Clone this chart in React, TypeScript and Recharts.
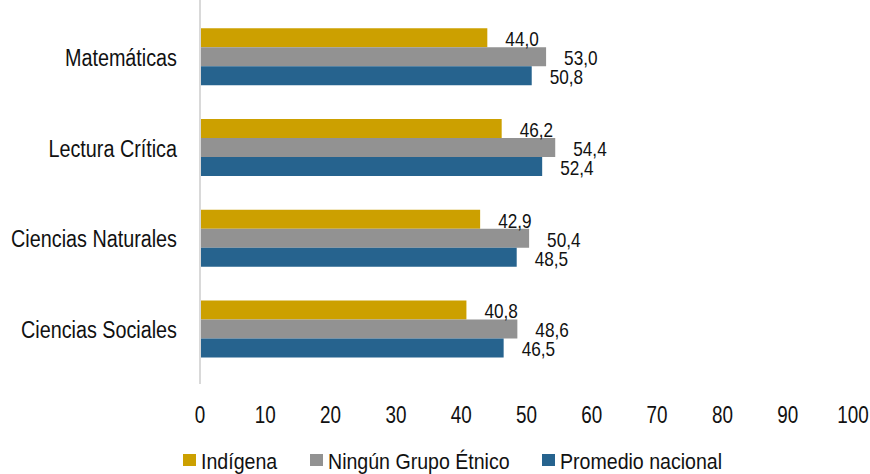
import React from 'react';
import { BarChart, Bar, XAxis, YAxis, LabelList, Legend } from 'recharts';

const categories = ['Matemáticas', 'Lectura Crítica', 'Ciencias Naturales', 'Ciencias Sociales'];
const indigena = [44.0, 46.2, 42.9, 40.8];
const ningunGrupo = [53.0, 54.4, 50.4, 48.6];
const promedioNacional = [50.8, 52.4, 48.5, 46.5];
const xTicks = [0, 10, 20, 30, 40, 50, 60, 70, 80, 90, 100];

const series = [
  { key: 'indigena', name: 'Indígena', color: '#CCA000' },
  { key: 'ningun', name: 'Ningún Grupo Étnico', color: '#929292' },
  { key: 'promedio', name: 'Promedio nacional', color: '#26638E' },
];

const data = categories.map((c, i) => ({
  category: c,
  indigena: indigena[i],
  ningun: ningunGrupo[i],
  promedio: promedioNacional[i],
}));

// no Arial Narrow in the sandbox, so squeeze Liberation Sans horizontally
const FONT = '"Liberation Sans", Arial, sans-serif';
const INK = '#111';

const fmt = (v: any) => Number(v).toFixed(1).replace('.', ',');

function NarrowText({ x, y, size, anchor, squeeze = 0.86, children }: any) {
  return (
    <text
      transform={`translate(${x},${y}) scale(${squeeze},1)`}
      textAnchor={anchor}
      fontFamily={FONT}
      fontSize={size}
      fill={INK}
    >
      {children}
    </text>
  );
}

function CategoryTick({ x, y, payload }: any) {
  return <NarrowText x={x} y={y + 9.5} size={23} anchor="end">{payload.value}</NarrowText>;
}

function ValueTick({ x, y, payload }: any) {
  return <NarrowText x={x} y={y + 17} size={23} anchor="middle" squeeze={0.82}>{payload.value}</NarrowText>;
}

function BarValue({ x, y, width, height, value }: any) {
  return (
    <NarrowText x={x + width + 18} y={y + height / 2 + 8.5} size={20} anchor="start">
      {fmt(value)}
    </NarrowText>
  );
}

const legendX = [183, 310, 542];

function LegendContent() {
  return (
    <svg width={870} height={30} style={{ display: 'block' }}>
      {series.map((s, i) => (
        <g key={s.key}>
          <rect x={legendX[i]} y={10} width={13} height={12} fill={s.color} />
          <NarrowText x={legendX[i] + 18} y={25} size={22.5} anchor="start" squeeze={0.87}>
            {s.name}
          </NarrowText>
        </g>
      ))}
    </svg>
  );
}

export default function App() {
  return (
    <div style={{ position: 'absolute', top: 0, left: 0, width: 870, height: 474, background: '#fff' }}>
      <BarChart
        width={870}
        height={474}
        data={data}
        layout="vertical"
        margin={{ top: 0, right: 17, bottom: 0, left: 0 }}
        barGap={0}
        barCategoryGap="19%"
      >
        <XAxis
          type="number"
          domain={[0, 100]}
          ticks={xTicks}
          axisLine={false}
          tickLine={false}
          tickSize={0}
          tickMargin={22}
          height={60}
          interval={0}
          tick={<ValueTick />}
        />
        <YAxis
          type="category"
          dataKey="category"
          width={200}
          axisLine={{ stroke: '#d9d9d9', strokeWidth: 2 }}
          tickLine={false}
          tickSize={0}
          tickMargin={23}
          padding={{ top: 11, bottom: 10 }}
          tick={<CategoryTick />}
        />
        <Legend verticalAlign="bottom" height={30} content={<LegendContent />} />
        {series.map((s) => (
          <Bar key={s.key} dataKey={s.key} name={s.name} fill={s.color} isAnimationActive={false}>
            <LabelList dataKey={s.key} content={<BarValue />} />
          </Bar>
        ))}
      </BarChart>
    </div>
  );
}
